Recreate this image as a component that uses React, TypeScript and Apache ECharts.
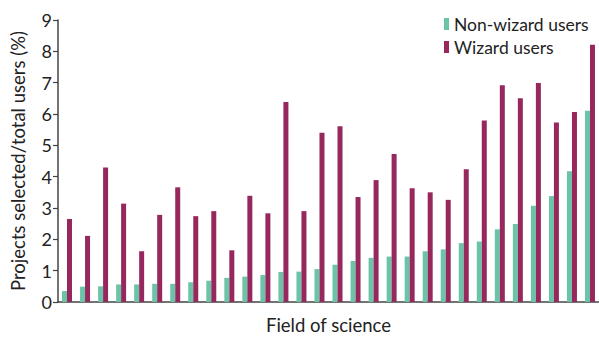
import React, { useEffect, useRef } from "react";
import * as echarts from "echarts";

const categories: string[] = Array.from({ length: 30 }, (_, i) => `Field ${i + 1}`);
const nonWizard: number[] = [
  0.35, 0.49, 0.5, 0.56, 0.56, 0.58, 0.58, 0.63, 0.68, 0.77,
  0.81, 0.86, 0.96, 0.97, 1.05, 1.19, 1.31, 1.41, 1.45, 1.45,
  1.62, 1.68, 1.88, 1.93, 2.32, 2.49, 3.07, 3.38, 4.17, 6.1,
];
const wizard: number[] = [
  2.65, 2.11, 4.29, 3.14, 1.62, 2.78, 3.66, 2.74, 2.9, 1.65,
  3.39, 2.83, 6.38, 2.9, 5.4, 5.61, 3.35, 3.89, 4.72, 3.63,
  3.5, 3.26, 4.24, 5.79, 6.92, 6.5, 6.99, 5.73, 6.06, 8.21,
];
const yTicks = { min: 0, max: 9, interval: 1 };

const FONT = "Lato";
const TEXT = "#222";

export default function App() {
  const ref = useRef<HTMLDivElement>(null);
  useEffect(() => {
    if (!ref.current) return;
    const chart = echarts.init(ref.current, undefined, { renderer: "svg" });
    chart.setOption({
      animation: false,
      backgroundColor: "#fff",
      textStyle: { fontFamily: FONT, color: TEXT },
      grid: { left: 58, right: 0, top: 20, bottom: 30, containLabel: false },
      legend: {
        orient: "vertical",
        left: 439,
        top: 10,
        itemWidth: 5,
        itemHeight: 12,
        itemGap: 5,
        icon: "rect",
        textStyle: { fontFamily: FONT, fontSize: 17.5, color: TEXT },
        data: ["Non-wizard users", "Wizard users"],
      },
      xAxis: {
        type: "category",
        data: categories,
        name: "Field of science",
        nameLocation: "middle",
        nameGap: 13,
        nameTextStyle: { fontFamily: FONT, fontSize: 18.5, color: TEXT },
        axisLine: { lineStyle: { color: "#444", width: 1.5 } },
        axisTick: { show: false },
        axisLabel: { show: false },
      },
      yAxis: {
        type: "value",
        min: yTicks.min,
        max: yTicks.max,
        interval: yTicks.interval,
        name: "Projects selected/total users (%)",
        nameLocation: "middle",
        nameGap: 31,
        nameTextStyle: { fontFamily: FONT, fontSize: 18.5, color: TEXT },
        axisLine: { show: true, lineStyle: { color: "#444", width: 1.5 } },
        axisTick: { show: true, length: 5, lineStyle: { color: "#444", width: 1.2 } },
        axisLabel: { fontFamily: FONT, fontSize: 18, color: TEXT, margin: 6 },
        splitLine: { show: false },
      },
      series: [
        {
          name: "Non-wizard users",
          type: "bar",
          data: nonWizard,
          barWidth: 5,
          barGap: "0%",
          itemStyle: { color: "#6CC4A8" },
        },
        {
          name: "Wizard users",
          type: "bar",
          data: wizard,
          barWidth: 5,
          barGap: "0%",
          itemStyle: { color: "#96285E" },
        },
      ],
    });
    return () => chart.dispose();
  }, []);
  return <div ref={ref} style={{ width: 599, height: 339, position: "absolute", left: 0, top: 0 }} />;
}
